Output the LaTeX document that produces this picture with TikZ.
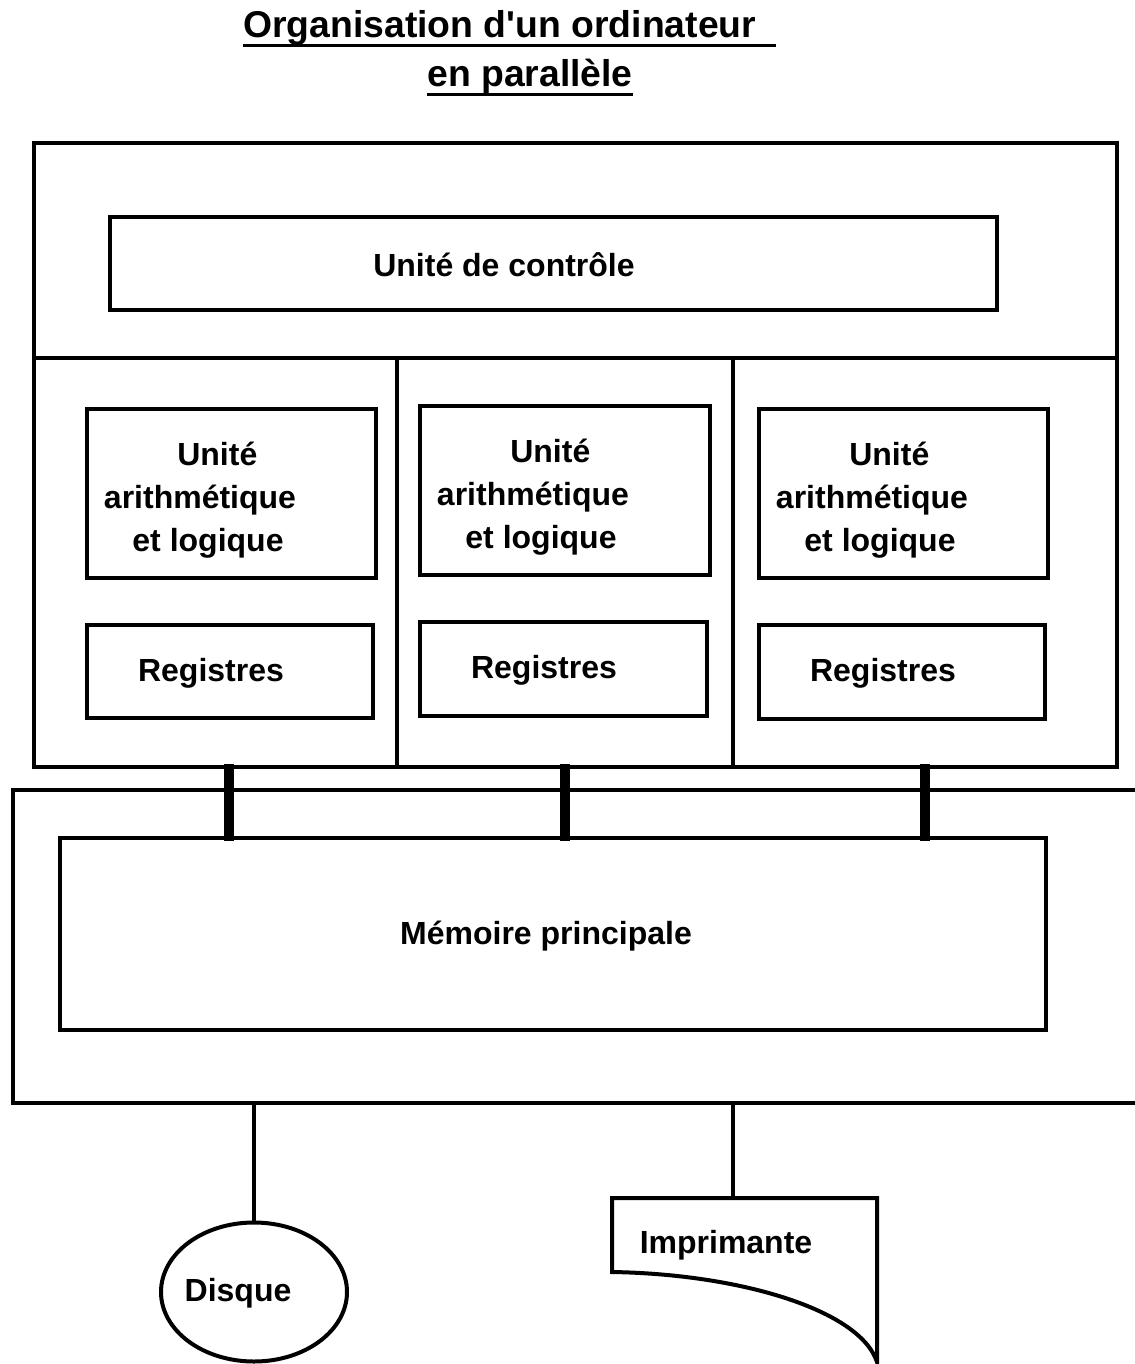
\documentclass[tikz,border=0pt]{standalone}
\usepackage{fontspec}
\setmainfont{Liberation Sans}
\usetikzlibrary{shapes.geometric,fit}

\begin{document}
\begin{tikzpicture}[x=0.75pt,y=0.75pt,yscale=-1,xscale=1,
    box/.style={draw,line width=3pt,inner sep=0pt},
    wire/.style={line width=3pt},
    bus/.style={line width=7.5pt,shorten <=-3.75pt,shorten >=-3.75pt},
    uline/.style={line width=2.2pt},
    lbl/.style={inner sep=0.75pt,font=\fontsize{24}{32.25}\selectfont\bfseries,align=center},
    ttl/.style={inner sep=0pt,font=\fontsize{28}{34}\selectfont\bfseries}]
\useasboundingbox (0,0) rectangle (1135,1364);

% Title
\node[ttl,anchor=west] (titre1) at (243,28) {Organisation d\textquotesingle un ordinateur};
\node[ttl] (titre2) at (530,77) {en parallèle};
\draw[uline] (titre1.south west) -- ([xshift=15pt]titre1.south east);
\draw[uline] (titre2.south west) -- (titre2.south east);

%Shape: Rectangle [processeur]
\node[box,fit={(34,143) (1117,767)}] (cpu) {};
%Straight Lines
\draw[wire] (cpu.west |- 0,358) -- (cpu.east |- 0,358);
\draw[wire] (397,358) -- (397,767);
\draw[wire] (733,358) -- (733,767);

%Shape: Rectangle [controle]
\node[box,fit={(110,217) (997,310)}] (ctrl) {};
% Text Node
\node[lbl] (ctrltxt) at (504,265) {Unité de contrôle};

%Shape: Rectangle [ual / registres]
\node[box,fit={(87,409) (376,578)}] (ual1) {};
\node[box,fit={(420,406) (710,575)}] (ual2) {};
\node[box,fit={(759,409) (1048,578)}] (ual3) {};
\node[box,fit={(87,625) (373,718)}] (reg1) {};
\node[box,fit={(420,622) (707,716)}] (reg2) {};
\node[box,fit={(759,625) (1045,719)}] (reg3) {};
% Text Node
\node[lbl] (ualtxt1) at (208,500) {\hspace*{14pt}Unité\\\mbox{arithmétique\kern12pt}\\et logique};
\node[lbl] (ualtxt2) at (541,497) {\hspace*{14pt}Unité\\\mbox{arithmétique\kern12pt}\\et logique};
\node[lbl] (ualtxt3) at (880,500) {\hspace*{14pt}Unité\\\mbox{arithmétique\kern12pt}\\et logique};
\node[lbl] (regtxt1) at (211,673) {Registres};
\node[lbl] (regtxt2) at (544,670) {Registres};
\node[lbl] (regtxt3) at (883,673) {Registres};

%Straight Lines [memoire, ouvert a droite]
\draw[wire] (1135,790) -- (13,790) -- (13,1103) -- (1135,1103);
\coordinate (sortie1) at (254,1103);
\coordinate (sortie2) at (733,1103);

%Shape: Rectangle [memoire principale]
\node[box,fit={(60,838) (1046,1030)}] (mem) {};
% Text Node
\node[lbl] (memtxt) at (546,936) {Mémoire principale};

%Bus
\foreach \x [count=\n] in {229,565,925} {
    \coordinate (bus\n) at (\x,0);
    \draw[bus] (cpu.south -| bus\n) -- (mem.north -| bus\n);
}

%Shape: Ellipse [disque]
\node[draw,ellipse,line width=3pt,inner sep=0pt,minimum width=139.5pt,minimum height=104.25pt] (disque) at (254,1292) {};
\node[lbl] (disquetxt) at (238,1293) {Disque};
\draw[wire] (sortie1) -- (disque.north);

%Shape: Document [imprimante]
\coordinate (imp) at (733,1198);
\draw[wire,line join=miter] (612,1198) -- (877,1198) -- (877,1362) .. controls (860,1310) and (740,1274) .. (612,1272) -- cycle;
\node[lbl] (imptxt) at (726,1245) {Imprimante};
\draw[wire] (sortie2) -- (imp);

\end{tikzpicture}
\end{document}
